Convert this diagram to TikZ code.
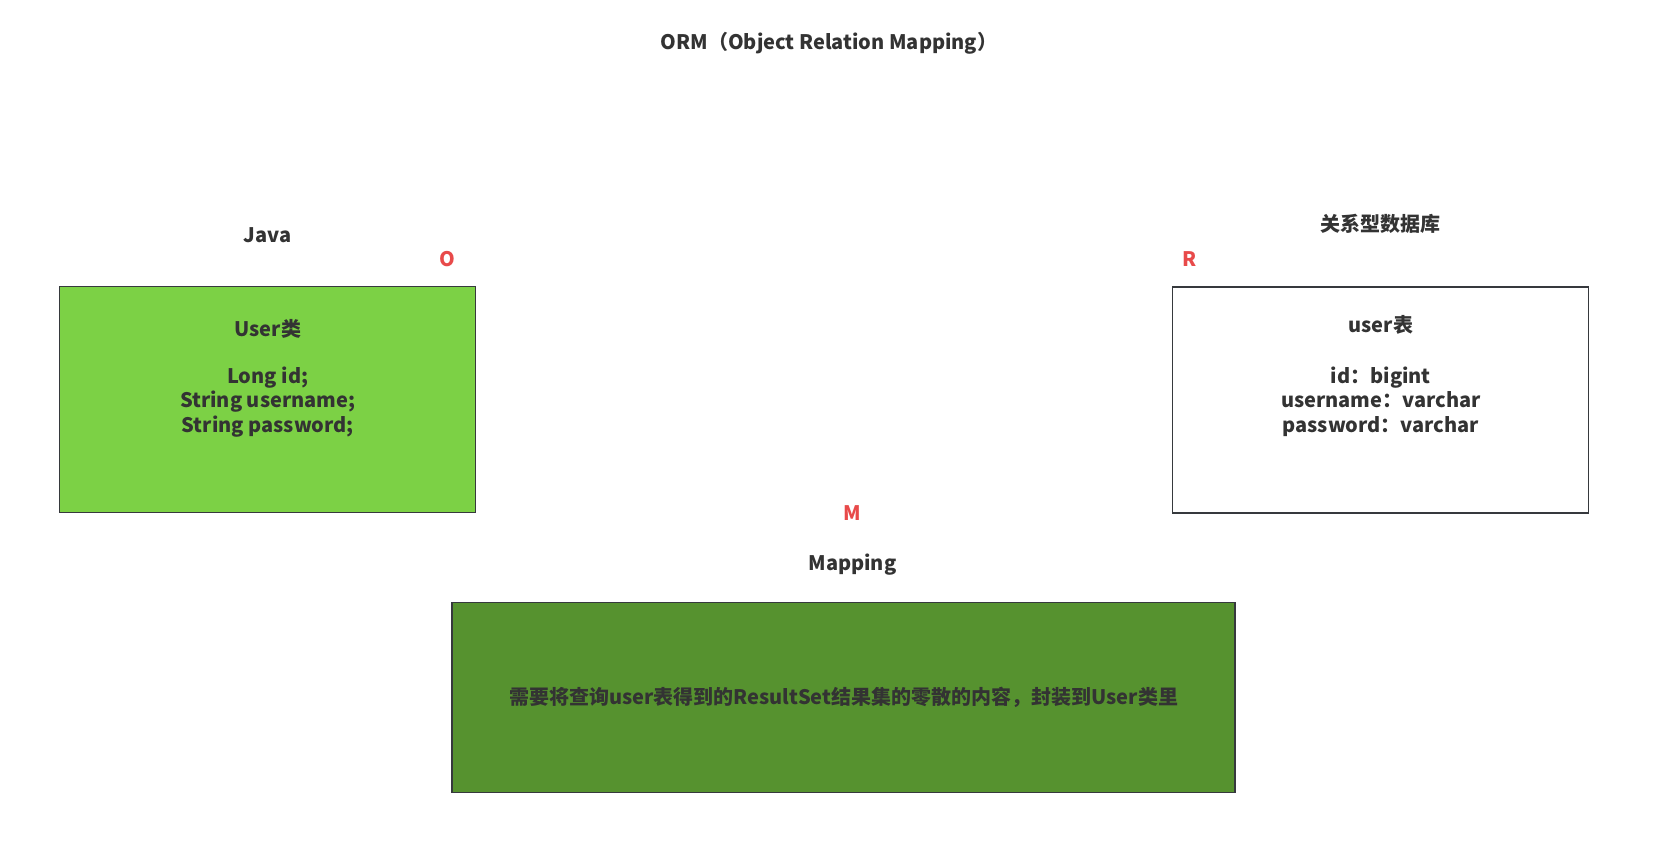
\documentclass[tikz,border=0pt]{standalone}
\usepackage{fontspec}
\setmainfont{Noto Sans CJK SC}
\usetikzlibrary{positioning}
\definecolor{txtgray}{HTML}{333333}
\definecolor{edgegray}{HTML}{36393D}
\definecolor{javagreen}{HTML}{7CD145}
\definecolor{mapgreen}{HTML}{56922F}
\definecolor{ormred}{HTML}{E84A4A}

\begin{document}
\begin{tikzpicture}[x=1pt,y=-1pt,every node/.style={font=\bfseries\fontsize{20}{24.5}\selectfont,text=txtgray},
  box/.style={draw=edgegray,line width=1.3pt,minimum width=416pt,minimum height=226pt,inner sep=0pt},
  lbl/.style={inner sep=0pt,text height=15pt,text depth=4pt},
  letter/.style={lbl,text=ormred}]
\useasboundingbox (0,0) rectangle (1669,857);
\node[lbl] (title) at (829,43.5) {ORM（Object Relation Mapping）};
% the three boxes
\node[box,fill=javagreen] (javabox) at (267.8,399.7) {};
\node[box] (rdbbox) at (1380.8,400) {};
\node[box,fill=mapgreen,minimum width=783pt,minimum height=190pt] (mapbox) at (843.5,697.7) {需要将查询user表得到的ResultSet结果集的零散的内容，封装到User类里};
\node[align=center] (javafields) at (267.8,378) {User类\\[22.5pt]Long id;\\String username;\\String password;};
\node[align=center] (rdbfields) at (1380.8,376) {user表\\[26.5pt]id：bigint\\username：varchar\\password：varchar};
% labels above the boxes
\node[lbl,above=39pt of javabox] (javalbl) {Java};
\node[letter,above=15pt of javabox.north east,xshift=-29pt] (oletter) {O};
\node[lbl,above=51pt of rdbbox] (rdblbl) {关系型数据库};
\node[letter,above=16pt of rdbbox.north west,xshift=17pt] (rletter) {R};
\node[lbl,above=27pt of mapbox,xshift=9pt] (maplbl) {Mapping};
\node[letter,above=31pt of maplbl] (mletter) {M};
\end{tikzpicture}
\end{document}
